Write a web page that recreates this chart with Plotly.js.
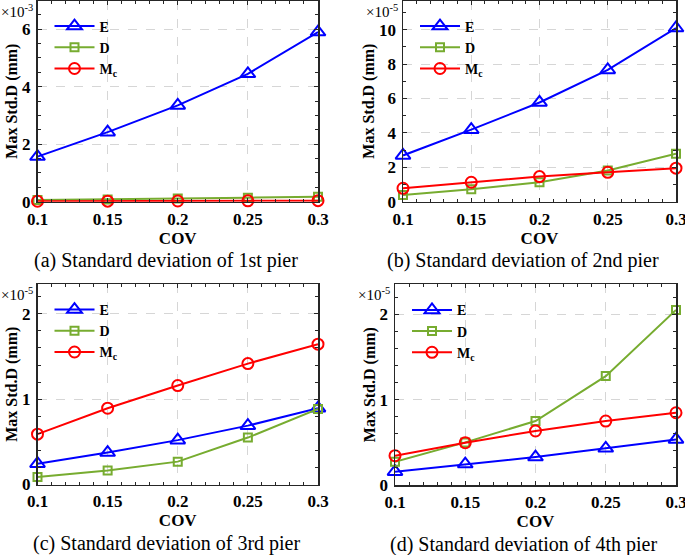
<!DOCTYPE html>
<html>
<head>
<meta charset="utf-8">
<script src="https://cdn.plot.ly/plotly-3.0.1.min.js"></script>
<style>html,body{margin:0;padding:0;background:#fff;}#chart{width:685px;height:555px;}</style>
</head>
<body>
<div id="chart"></div>
<script>
// COV values (x axis)
const cov = [0.1, 0.15, 0.2, 0.25, 0.3];
const xTickVals = [0.1, 0.15, 0.2, 0.25, 0.3];
const xTickText = ["0.1", "0.15", "0.2", "0.25", "0.3"];

// Pier 1 (x10^-3 mm)
const pier1_E  = [1.57, 2.42, 3.35, 4.45, 5.90];
const pier1_D  = [0.06, 0.08, 0.11, 0.14, 0.17];
const pier1_Mc = [0.015, 0.02, 0.025, 0.03, 0.035];
// Pier 2 (x10^-5 mm)
const pier2_E  = [2.69, 4.19, 5.77, 7.66, 10.1];
const pier2_D  = [0.39, 0.72, 1.13, 1.81, 2.79];
const pier2_Mc = [0.78, 1.13, 1.46, 1.71, 1.95];
// Pier 3 (x10^-5 mm)
const pier3_E  = [0.244, 0.374, 0.52, 0.69, 0.894];
const pier3_D  = [0.087, 0.165, 0.268, 0.55, 0.886];
const pier3_Mc = [0.59, 0.894, 1.16, 1.417, 1.645];
// Pier 4 (x10^-5 mm)
const pier4_E  = [0.156, 0.245, 0.327, 0.429, 0.534];
const pier4_D  = [0.273, 0.499, 0.749, 1.275, 2.05];
const pier4_Mc = [0.343, 0.495, 0.632, 0.749, 0.846];

const seriesNames = ["E", "D", "M<sub>c</sub>"];
const captions = ["(a) Standard deviation of 1st pier", "(b) Standard deviation of 2nd pier",
                  "(c) Standard deviation of 3rd pier", "(d) Standard deviation of 4th pier"];
const exponents = ["×10<sup>-3</sup>", "×10<sup>-5</sup>", "×10<sup>-5</sup>", "×10<sup>-5</sup>"];

const panels = [
  {E: pier1_E, D: pier1_D, Mc: pier1_Mc},
  {E: pier2_E, D: pier2_D, Mc: pier2_Mc},
  {E: pier3_E, D: pier3_D, Mc: pier3_Mc},
  {E: pier4_E, D: pier4_D, Mc: pier4_Mc}
];

const W = 685, H = 555;
const serif = '"Liberation Serif", "Times New Roman", serif';
const blue = '#0000FF', green = '#77AC30', red = '#FF0000';

const styles = [
  {key: 'E', color: blue, symbol: 'triangle-up-open', size: 13},
  {key: 'D', color: green, symbol: 'square-open', size: 8},
  {key: 'Mc', color: red, symbol: 'circle-open', size: 11}
];

const traces = [];
panels.forEach((p, i) => {
  const n = i === 0 ? '' : String(i + 1);
  styles.forEach((s, k) => {
    traces.push({
      x: cov, y: p[s.key], type: 'scatter', mode: 'lines+markers',
      name: seriesNames[k],
      xaxis: 'x' + n, yaxis: 'y' + n,
      legend: 'legend' + n,
      line: {color: s.color, width: 2},
      marker: {symbol: s.symbol, size: s.size, color: s.color, line: {color: s.color, width: 2}},
      cliponaxis: false
    });
  });
});

// pixel boxes [left, right, top, bottom]
const boxes = [
  [37.5, 318, 0.5, 201.7],
  [403, 676, 0.5, 201.7],
  [37.5, 318, 284, 484.5],
  [395, 676, 284.3, 485]
];
const yRanges = [[0, 7], [0, 11.7], [0, 2.35], [0, 2.35]];
const yTicks = [[0, 2, 4, 6], [0, 2, 4, 6, 8, 10], [0, 1, 2], [0, 1, 2]];
const yMinor = [0.5, 1, 0.2, 0.2];

const layout = {
  width: W, height: H,
  margin: {l: 0, r: 0, t: 0, b: 0},
  paper_bgcolor: '#fff', plot_bgcolor: '#fff',
  font: {family: serif, color: '#000', size: 15},
  annotations: [],
  showlegend: true
};

const axisCommon = {
  showline: true, linecolor: '#262626', linewidth: 1.5, mirror: 'allticks',
  ticks: 'inside', ticklen: 4, tickwidth: 1, tickcolor: '#262626',
  showgrid: true, gridcolor: '#d6d6d6', griddash: 'dash', gridwidth: 1,
  zeroline: false, ticklabeloverflow: 'allow',
  tickfont: {family: serif, size: 17, color: '#000', weight: 'bold'}
};

boxes.forEach((b, i) => {
  const n = i === 0 ? '' : String(i + 1);
  layout['xaxis' + n] = Object.assign({}, axisCommon, {
    domain: [b[0] / W, b[1] / W],
    anchor: 'y' + n,
    range: [0.1, 0.3],
    tickmode: 'array', tickvals: xTickVals, ticktext: xTickText,
    minor: {dtick: 0.01, tick0: 0.1, ticks: 'inside', ticklen: 3, tickcolor: '#262626', showgrid: false},
    ticklabelstandoff: 1,
    title: {text: 'COV', font: {family: serif, size: 17, weight: 'bold', color: '#000'}, standoff: 2}
  });
  layout['yaxis' + n] = Object.assign({}, axisCommon, {
    domain: [1 - b[3] / H, 1 - b[2] / H],
    anchor: 'x' + n,
    range: yRanges[i],
    tickmode: 'array', tickvals: yTicks[i], ticktext: yTicks[i].map(String),
    minor: {dtick: yMinor[i], tick0: 0, ticks: 'inside', ticklen: 3, tickcolor: '#262626', showgrid: false},
    ticklabelstandoff: 2,
    title: {text: 'Max Std.D (mm)', font: {family: serif, size: 16, weight: 'bold', color: '#000'}, standoff: 0}
  });
  // legend
  layout['legend' + n] = {
    x: (b[0] + 12) / W, y: 1 - (b[2] + 10) / H, xanchor: 'left', yanchor: 'top',
    bgcolor: 'rgba(0,0,0,0)', borderwidth: 0,
    font: {family: serif, size: 14, weight: 'bold', color: '#000'},
    itemwidth: 40, tracegroupgap: 0
  };
  // exponent label
  layout.annotations.push({
    text: exponents[i], xref: 'paper', yref: 'paper',
    x: (b[0] - 3) / W, y: 1 - (b[2] + 10) / H, xanchor: 'right', yanchor: 'middle',
    showarrow: false, font: {family: serif, size: 15, color: '#000'}
  });
  // caption
  layout.annotations.push({
    text: captions[i], xref: 'paper', yref: 'paper',
    x: (i % 2 === 0 ? 166 : 523) / W, y: 1 - (b[3] + 59) / H, xanchor: 'center', yanchor: 'middle',
    showarrow: false, font: {family: serif, size: 20, color: '#000'}
  });
});

Plotly.newPlot('chart', traces, layout, {staticPlot: true, displayModeBar: false});
</script>
</body>
</html>
